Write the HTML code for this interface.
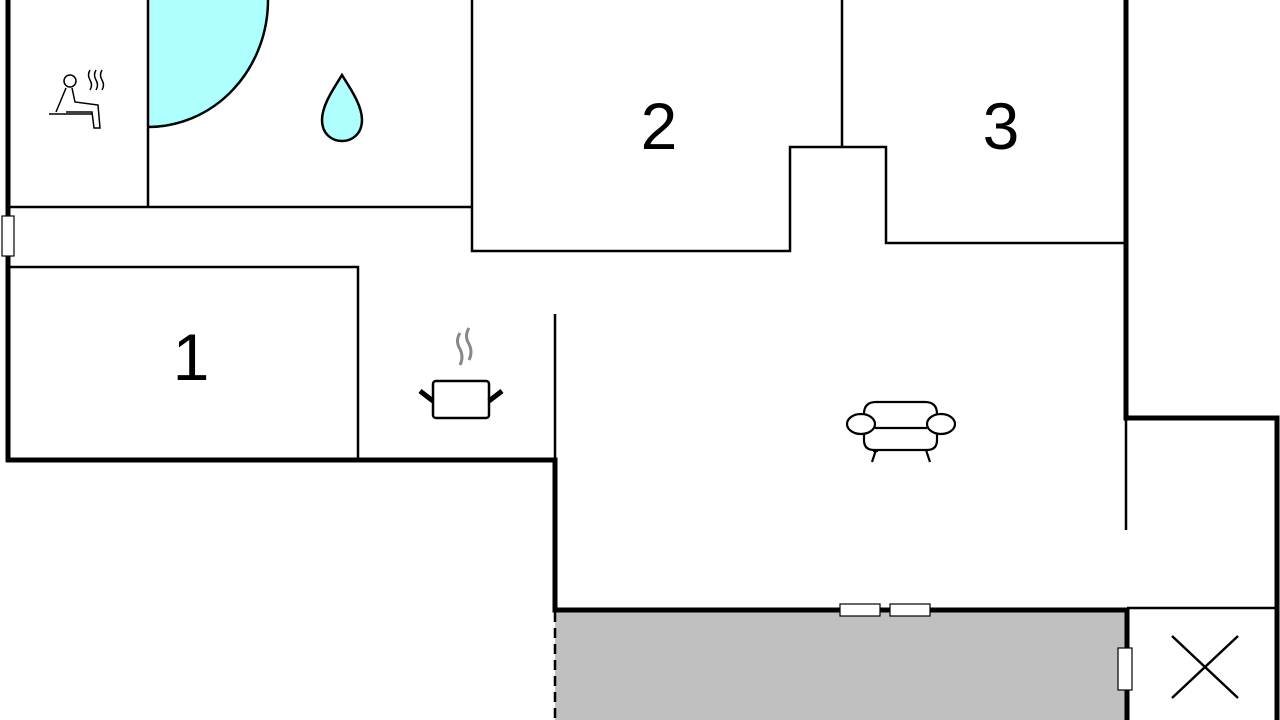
<!DOCTYPE html>
<html><head><style>body{margin:0;background:#fff}svg{display:block}</style></head>
<body>
<svg width="1280" height="720" viewBox="0 0 1280 720" xmlns="http://www.w3.org/2000/svg">
<rect x="555" y="610" width="572" height="110" fill="#c0c0c0"/>
<path d="M148,0 L268,0 A120,127 0 0 1 148,127 Z" fill="#b0ffff"/>
<path d="M268,0 A120,127 0 0 1 148,127" fill="none" stroke="#000" stroke-width="2.5"/>
<g stroke="#000" stroke-width="2.5" fill="none">
<line x1="148" y1="0" x2="148" y2="207"/>
<line x1="8" y1="207" x2="473" y2="207"/>
<polyline points="472,0 472,251 790,251 790,147 886,147 886,243 1126,243"/>
<line x1="842" y1="0" x2="842" y2="147"/>
<polyline points="8,267 358,267 358,460"/>
<line x1="555" y1="314" x2="555" y2="460"/>
<line x1="1126" y1="420" x2="1126" y2="530"/>
<line x1="1127" y1="608" x2="1277" y2="608"/>
<line x1="1172" y1="636" x2="1238" y2="698"/>
<line x1="1238" y1="636" x2="1172" y2="698"/>
</g>
<g stroke="#000" stroke-width="5" fill="none">
<line x1="8" y1="0" x2="8" y2="462"/>
<polyline points="6,460 555,460 555,610 1127,610"/>
<polyline points="1126,0 1126,418 1277,418 1277,720"/>
<line x1="1127" y1="608" x2="1127" y2="720"/>
</g>
<line x1="555" y1="612" x2="555" y2="720" stroke="#000" stroke-width="2.5" stroke-dasharray="10,6"/>
<g fill="#fff" stroke="#000" stroke-width="1.2">
<rect x="2" y="216" width="12" height="40"/>
<rect x="840" y="604" width="40" height="12"/>
<rect x="890" y="604" width="40" height="12"/>
<rect x="1118" y="648" width="14" height="42"/>
</g>
<g font-family="Liberation Sans, sans-serif" font-size="66" text-anchor="middle">
<text x="659" y="149">2</text>
<text x="1001" y="149">3</text>
<text x="191" y="380">1</text>
</g>
<!-- drop -->
<path d="M342,75 C350,88 362,105 362,120 C362,134 352,141 342,141 C332,141 322,134 322,120 C322,105 334,88 342,75 Z" fill="#b0ffff" stroke="#000" stroke-width="2.5"/>
<!-- sauna -->
<g stroke="#000" stroke-width="1.5" fill="none">
<circle cx="70" cy="81" r="6"/>
<path d="M66,88 L56,112 M72,88 L75,102 L98,105 L100,128 L94,128 L92,112 L66,112"/>
<line x1="49" y1="114" x2="93" y2="114"/>
<path d="M90,70 q-3,5 0,10 q3,5 0,10 M96,70 q-3,5 0,10 q3,5 0,10 M102,70 q-3,5 0,10 q3,5 0,10"/>
</g>
<!-- pot -->
<g fill="none">
<path d="M460,333 q-5,8 0,16 q4,8 0,16 M469,328 q-5,8 0,16 q4,8 0,16" stroke="#888" stroke-width="3"/>
<rect x="433" y="381" width="56" height="37" rx="3" stroke="#000" stroke-width="2.5"/>
<path d="M420,391 L433,401 M502,391 L489,401" stroke="#000" stroke-width="5"/>
</g>
<!-- armchair -->
<g stroke="#000" stroke-width="2.2" fill="#fff">
<path d="M864,414 Q864,402 876,402 L925,402 Q937,402 937,414 L937,440 Q937,450 927,450 L874,450 Q864,450 864,440 Z"/>
<ellipse cx="861" cy="424" rx="14" ry="10"/>
<ellipse cx="941" cy="424" rx="14" ry="10"/>
<line x1="873" y1="451" x2="878" y2="451"/>
<line x1="875" y1="428" x2="927" y2="428"/>
<line x1="876" y1="450" x2="872" y2="462"/>
<line x1="926" y1="450" x2="930" y2="462"/>
</g>
</svg>
</body></html>
